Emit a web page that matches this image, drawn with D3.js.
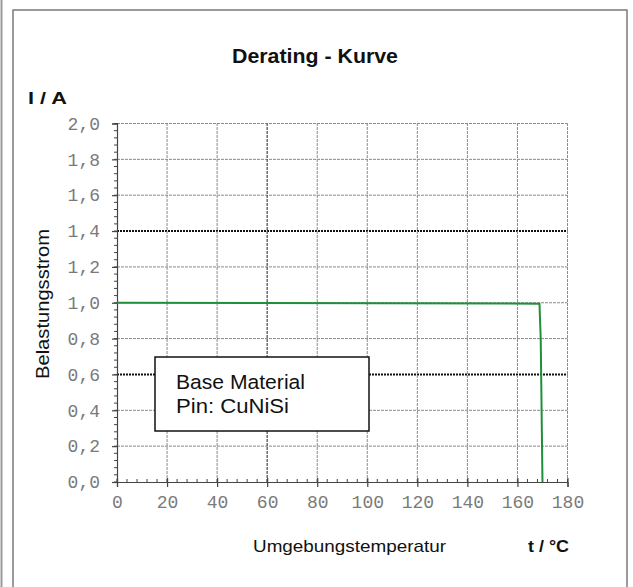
<!DOCTYPE html>
<html><head><meta charset="utf-8">
<script src="https://cdn.jsdelivr.net/npm/d3@7"></script>
<style>body{margin:0;background:#fff}svg{display:block}</style>
</head><body>
<script>
const title = "Derating - Kurve";
const yUnit = "I / A";
const yName = "Belastungsstrom";
const xName = "Umgebungstemperatur";
const xUnit = "t / °C";
const legendLines = ["Base Material", "Pin: CuNiSi"];
const xTicks = [0, 20, 40, 60, 80, 100, 120, 140, 160, 180];
const xTickLabels = ["0", "20", "40", "60", "80", "100", "120", "140", "160", "180"];
const yTicks = [0, 0.2, 0.4, 0.6, 0.8, 1.0, 1.2, 1.4, 1.6, 1.8, 2.0];
const yTickLabels = ["0,0", "0,2", "0,4", "0,6", "0,8", "1,0", "1,2", "1,4", "1,6", "1,8", "2,0"];
const darkYGrid = [0.6, 1.4];
const darkXGrid = [60];
const curveT = [0, 168.8, 169.3, 170];
const curveI = [1.0, 0.995, 0.8, 0];

const W = 633, H = 587;
const svg = d3.select("body").append("svg").attr("width", W).attr("height", H);

// frames
svg.append("line").attr("x1", 1.5).attr("x2", 1.5).attr("y1", 0).attr("y2", H)
  .attr("stroke", "#9a9a9a").attr("stroke-width", 2);
svg.append("rect").attr("x", 13).attr("y", 10).attr("width", 614).attr("height", H + 10)
  .attr("fill", "none").attr("stroke", "#7a7a7a").attr("stroke-width", 1.5);

const x = d3.scaleLinear().domain([0, 180]).range([117, 567.5]);
const y = d3.scaleLinear().domain([0, 2]).range([482, 123.5]);

const g = svg.append("g");

// grid
const fmtKey = v => v.toFixed(2);
const isDarkY = d => darkYGrid.map(fmtKey).includes(fmtKey(d));
g.selectAll(".gy").data(yTicks.filter(v => v > 0)).join("line")
  .attr("x1", x(0)).attr("x2", x(180)).attr("y1", d => y(d)).attr("y2", d => y(d))
  .attr("stroke", d => isDarkY(d) ? "#111" : "#8a8a8a")
  .attr("stroke-width", d => isDarkY(d) ? 2 : 1)
  .attr("stroke-dasharray", d => isDarkY(d) ? "2,1" : "3,1");
g.selectAll(".gx").data(xTicks.filter(v => v > 0)).join("line")
  .attr("y1", y(0)).attr("y2", y(2)).attr("x1", d => x(d)).attr("x2", d => x(d))
  .attr("stroke", d => darkXGrid.includes(d) ? "#555" : "#8a8a8a")
  .attr("stroke-width", d => darkXGrid.includes(d) ? 1.3 : 1)
  .attr("stroke-dasharray", "3,1");

// minor ticks
const yMinor = d3.range(0, 2.0001, 0.04);
g.selectAll(".my").data(yMinor).join("line")
  .attr("x1", x(0) - 3).attr("x2", x(0) + 1).attr("y1", d => y(d)).attr("y2", d => y(d))
  .attr("stroke", "#444").attr("stroke-width", 1);
const xMinor = d3.range(0, 180.001, 4);
g.selectAll(".mx").data(xMinor).join("line")
  .attr("x1", d => x(d)).attr("x2", d => x(d)).attr("y1", y(0) - 3).attr("y2", y(0))
  .attr("stroke", "#444").attr("stroke-width", 1);

// axes
const yAxis = d3.axisLeft(y).tickValues(yTicks).tickFormat((d, i) => yTickLabels[i]).tickSize(5).tickPadding(12);
const xAxis = d3.axisBottom(x).tickValues(xTicks).tickFormat((d, i) => xTickLabels[i]).tickSize(5).tickPadding(8);
const ya = g.append("g").attr("transform", `translate(${x(0)},0)`).call(yAxis);
const xa = g.append("g").attr("transform", `translate(0,${y(0)})`).call(xAxis);
[ya, xa].forEach(a => {
  a.select(".domain").attr("stroke", "#444").attr("stroke-width", 1.2);
  a.selectAll(".tick line").attr("stroke", "#444").attr("stroke-width", 1.2);
  a.selectAll("text").attr("fill", "#7a7a7a").attr("font-family", "Liberation Mono, DejaVu Sans Mono, monospace")
    .attr("font-size", 18);
});
xa.selectAll(".tick line").attr("y1", -4);

// curve
const line = d3.line().x((d, i) => x(curveT[i])).y((d, i) => y(curveI[i]));
g.append("path").datum(curveT).attr("d", line).attr("fill", "none")
  .attr("stroke", "#1f8f3a").attr("stroke-width", 2);

// legend
const lg = svg.append("g");
lg.append("rect").attr("x", 155).attr("y", 357).attr("width", 214).attr("height", 74)
  .attr("fill", "#fff").attr("stroke", "#111").attr("stroke-width", 1.5);
lg.selectAll("text").data(legendLines).join("text")
  .attr("x", 176).attr("y", (d, i) => 389 + i * 24)
  .attr("font-family", "Liberation Sans, Arial, sans-serif").attr("font-size", 20.5).attr("fill", "#111")
  .attr("textLength", (d, i) => i === 0 ? 129 : 113).attr("lengthAdjust", "spacingAndGlyphs")
  .text(d => d);

// texts
const sans = "Liberation Sans, Arial, sans-serif";
svg.append("text").attr("x", 315).attr("y", 63).attr("text-anchor", "middle")
  .attr("font-family", sans).attr("font-weight", "bold").attr("font-size", 21).attr("fill", "#111")
  .attr("textLength", 166).attr("lengthAdjust", "spacingAndGlyphs").text(title);
svg.append("text").attr("x", 28).attr("y", 104)
  .attr("font-family", sans).attr("font-weight", "bold").attr("font-size", 16.5).attr("fill", "#111")
  .attr("textLength", 39).attr("lengthAdjust", "spacingAndGlyphs").text(yUnit);
svg.append("text").attr("transform", "translate(49,304) rotate(-90)").attr("text-anchor", "middle")
  .attr("font-family", sans).attr("font-size", 18).attr("fill", "#111")
  .attr("textLength", 150).attr("lengthAdjust", "spacingAndGlyphs").text(yName);
svg.append("text").attr("x", 253).attr("y", 552)
  .attr("font-family", sans).attr("font-size", 17).attr("fill", "#111")
  .attr("textLength", 193).attr("lengthAdjust", "spacingAndGlyphs").text(xName);
svg.append("text").attr("x", 528).attr("y", 552)
  .attr("font-family", sans).attr("font-weight", "bold").attr("font-size", 17).attr("fill", "#111")
  .attr("textLength", 41).attr("lengthAdjust", "spacingAndGlyphs").text(xUnit);
</script>
</body></html>
